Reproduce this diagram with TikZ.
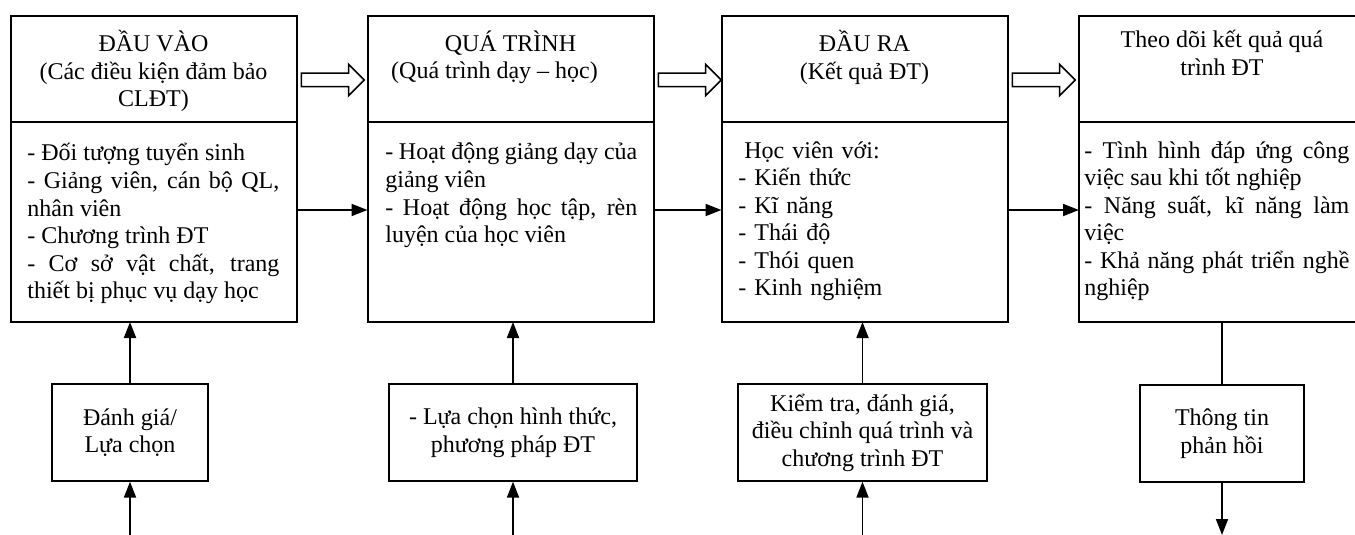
\documentclass[tikz,border=0pt]{standalone}
\usepackage{fontspec}
\setmainfont{Liberation Serif}
\usetikzlibrary{calc, positioning}
\usetikzlibrary{arrows.meta}
\usetikzlibrary{shapes.arrows}
\hyphenpenalty=10000
\exhyphenpenalty=10000
\def\px{0.5pt}
\def\stw{286*\px}
\tikzset{
    headbox/.style = {
        draw, rectangle, minimum width=\stw, minimum height=106*\px, line width=1pt, outer sep=0pt
    },
    bodybox/.style = {
        draw, rectangle, minimum width=\stw, minimum height=200*\px, line width=1pt, outer sep=0pt, anchor=north
    },
    headtext/.style = {
        align=center, inner sep=0pt, anchor=north
    },
    Stage/.pic = {
        \node [headbox](-head){};
        \node [bodybox](-body) at (-head.south){};
        \node [headtext](-title) at (0,-39){#1};
    },
}
\tikzset{
    bodytext/.style = {
        text width=126pt, align=justify, inner sep=0pt, anchor=base west
    },
    smallbox/.style = {
        draw, rectangle, minimum height=97*\px, align=center, line width=0.65pt
    },
    fatarrow/.style = {
        draw, single arrow, single arrow head extend=4.5pt, inner xsep=0pt, inner ysep=3pt,
        minimum height=31.5pt, line width=0.75pt, anchor=tail
    },
}
\begin{document}
\begin{tikzpicture}[x=\px, y=-\px, font=\fontsize{12pt}{13.8pt}\selectfont]
        % Frame of the figure
        \useasboundingbox (0,0) rectangle (1355,535);
        \clip (0,0) rectangle (1355,535);

        % Place the stages
        \draw pic (in) at (153.5,69) {Stage={ĐẦU VÀO\\(Các điều kiện đảm bảo\\CLĐT)}};
        \draw pic (pro) at (510.5,69) {Stage={QUÁ TRÌNH\\(Quá trình dạy – học)\hspace*{16pt}}};
        \draw pic (out) at (864.5,69) {Stage={ĐẦU RA\\(Kết quả ĐT)}};
        \draw pic (mon) at (1222,69) {Stage={Theo dõi kết quả quá\\trình ĐT}};

        % Contents of the stages
        \node[bodytext] (in-text) at (27,161) {- Đối tượng tuyển sinh\\- Giảng viên, cán bộ QL,\linebreak nhân viên\\- Chương trình ĐT\\- Cơ sở vật chất, trang\linebreak thiết bị phục vụ dạy học};
        \node[bodytext] (pro-text) at (385,160) {- Hoạt động giảng dạy của\linebreak giảng viên\\- Hoạt động học tập, rèn\linebreak luyện của học viên};
        \node[bodytext, align=left] (out-text) at (738,158) {\hspace*{3pt}Học viên với:\\- Kiến thức\\- Kĩ năng\\- Thái độ\\- Thói quen\\- Kinh nghiệm};
        \node[bodytext, text width=132.5pt] (mon-text) at (1084,158) {- Tình hình đáp ứng công\linebreak việc sau khi tốt nghiệp\\- Năng suất, kĩ năng làm\linebreak việc\\- Khả năng phát triển nghề\linebreak nghiệp};

        % Place the lower blocks
        \node[smallbox, minimum width=156*\px] (sel) at (130,432.5) {Đánh giá/\\Lựa chọn};
        \node[smallbox, minimum width=248*\px] (meth) at (513,432.5) {- Lựa chọn hình thức,\\phương pháp ĐT};
        \node[smallbox, minimum width=249*\px] (check) at (862.5,432.5) {Kiểm tra, đánh giá,\\điều chỉnh quá trình và\\chương trình ĐT};
        \node[smallbox, minimum width=164*\px] (fb) at (1222,433.5) {Thông tin\\phản hồi};

        % Hollow arrows between the stages
        \foreach \a [count=\i] in {in, pro, out}{
            \node[fatarrow] (fat\i) at ([xshift=2pt, yshift=-5.5pt]\a-head.east) {};
        }

        % Draw connections
        \begin{scope}[line width=0.9pt, >={Triangle[length=8pt,width=6pt]}]
            \coordinate (base) at (0,535);
            \draw[->] ([yshift=6pt]in-body.east) -- ([yshift=6pt]pro-body.west);
            \draw[->] ([yshift=6pt]pro-body.east) -- ([yshift=6pt]out-body.west);
            \draw[->] ([yshift=6pt]out-body.east) -- ([yshift=6pt]mon-body.west);
            \foreach \b/\s in {sel/in, meth/pro, check/out}{
                \draw[->] (\b.north) -- (\b.north |- \s-body.south);
                \draw[->] (\b.south |- base) -- (\b.south);
            }
            \draw (mon-body.south) -- (fb.north);
            \draw[->] (fb.south) -- (fb.south |- base);
        \end{scope}
    \end{tikzpicture}
\end{document}
